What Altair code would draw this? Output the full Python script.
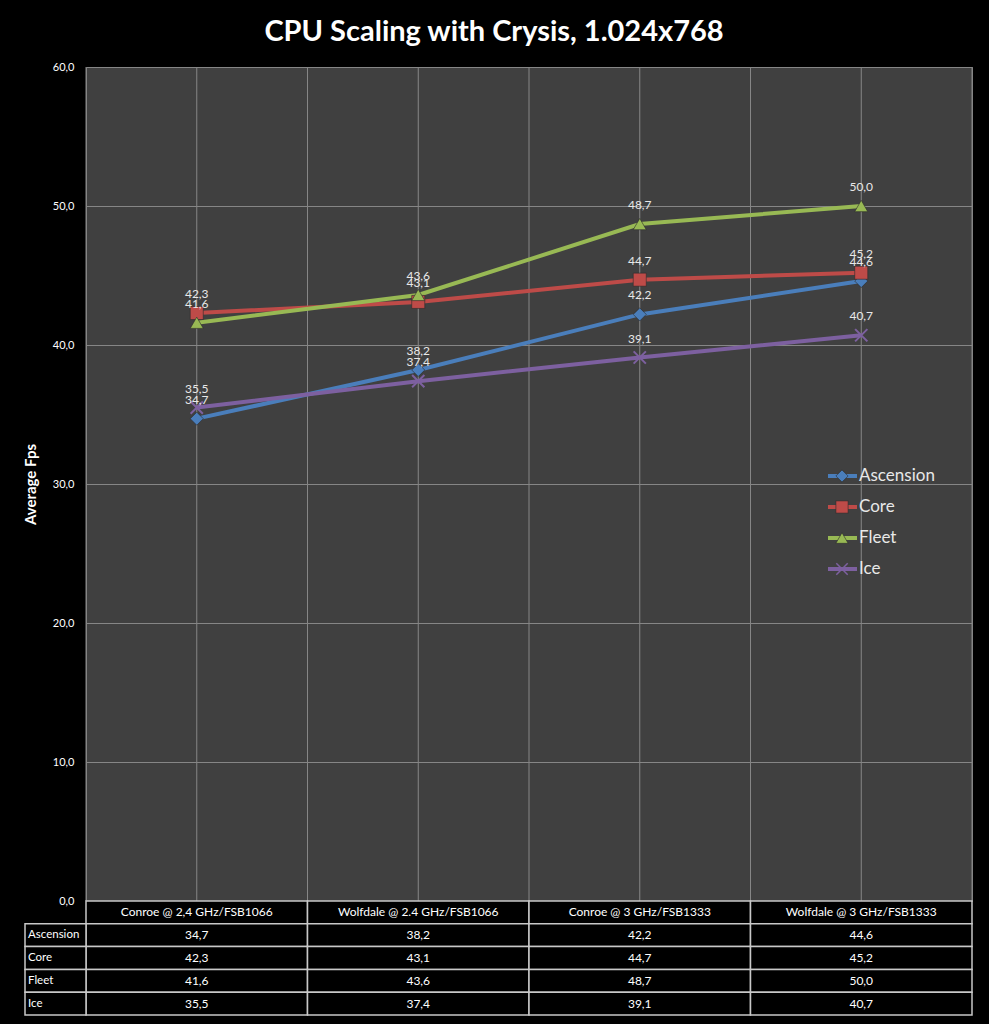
import altair as alt
import pandas as pd

# ---------------- data ----------------
categories = [
    "Conroe @ 2,4 GHz/FSB1066",
    "Wolfdale @ 2.4 GHz/FSB1066",
    "Conroe @ 3 GHz/FSB1333",
    "Wolfdale @ 3 GHz/FSB1333",
]
series_names = ["Ascension", "Core", "Fleet", "Ice"]
ascension = [34.7, 38.2, 42.2, 44.6]
core = [42.3, 43.1, 44.7, 45.2]
fleet = [41.6, 43.6, 48.7, 50.0]
ice = [35.5, 37.4, 39.1, 40.7]
colors = ["#4a7ebb", "#be4b48", "#98b954", "#7d60a0"]
title_text = "CPU Scaling with Crysis, 1.024x768"
y_title = "Average Fps"
y_ticks = [0, 10, 20, 30, 40, 50, 60]

values = {"Ascension": ascension, "Core": core, "Fleet": fleet, "Ice": ice}


def fmt(v):
    return f"{v:.1f}".replace(".", ",")


rows = []
for s in series_names:
    for i, v in enumerate(values[s]):
        rows.append({"series": s, "idx": i, "value": v, "label": fmt(v)})
df = pd.DataFrame(rows)

tbl_rows = []
for i, c in enumerate(categories):
    tbl_rows.append({"row": "header", "idx": i, "text": c})
    for s in series_names:
        tbl_rows.append({"row": s, "idx": i, "text": fmt(values[s][i])})
tbl = pd.DataFrame(tbl_rows)
row_domain = ["header"] + series_names
left_df = pd.DataFrame({"row": series_names})
legend_df = pd.DataFrame({"series": series_names})
# vertical gridlines: at every category centre and every category boundary
vgrid_df = pd.DataFrame({"pos": [-0.5 + 0.5 * k for k in range(9)]})

# ---------------- style ----------------
FONT = "Lato"
W, H = 886, 834
GRID = "#868686"
TXT = "#e8e8e8"

x_scale = alt.Scale(domain=[-0.5, 3.5], nice=False, zero=False)
y_scale = alt.Scale(domain=[0, 60], nice=False)
color_scale = alt.Scale(domain=series_names, range=colors)

y_axis = alt.Axis(
    values=y_ticks, labelExpr="replace(format(datum.value, '.1f'), '.', ',')",
    ticks=False, domain=False, grid=True, gridColor=GRID, gridWidth=1,
    labelColor="white", labelFont=FONT, labelFontSize=11, labelPadding=12,
    title=y_title, titleColor="white", titleFont=FONT, titleFontSize=15,
    titleFontWeight="bold", titleX=-56, titleY=H / 2, titleAngle=-90,
    titleAlign="center", titleBaseline="middle",
)

X = alt.X("idx:Q", scale=x_scale, axis=None)
Y = alt.Y("value:Q", scale=y_scale, axis=y_axis)
COL = alt.Color("series:N", scale=color_scale, legend=None)

vgrid = alt.Chart(vgrid_df).mark_rule(color=GRID, strokeWidth=1).encode(
    x=alt.X("pos:Q", scale=x_scale, axis=None), y=alt.value(0), y2=alt.value(H))

base = alt.Chart(df)
lines = base.mark_line(strokeWidth=4).encode(x=X, y=Y, color=COL)
shape_scale = alt.Scale(domain=["Ascension", "Core", "Fleet"],
                        range=["diamond", "square", "triangle-up"])
pts = base.transform_filter("datum.series != 'Ice'").mark_point(
    filled=True, size=170, opacity=1, stroke="#2a2a2a", strokeWidth=0.6
).encode(x=X, y=Y, color=COL,
         shape=alt.Shape("series:N", scale=shape_scale, legend=None))
xpath = "M-1,-1L1,1M-1,1L1,-1"
xs = base.transform_filter("datum.series == 'Ice'").mark_point(
    shape=xpath, size=150, filled=False, strokeWidth=2, opacity=1
).encode(x=X, y=Y, color=COL)
labels = base.mark_text(dy=-19, fontSize=12, font=FONT, color=TXT).encode(
    x=X, y=Y, text="label:N")
main = alt.layer(vgrid, lines, pts, xs, labels)

# ---------------- data table ----------------
tY = alt.Y("row:N", scale=alt.Scale(type="band", domain=row_domain, range=[H, H + 114],
                                     paddingInner=0, paddingOuter=0), axis=None)
tb = alt.Chart(tbl).transform_calculate(x0="datum.idx - 0.5", x1="datum.idx + 0.5")
cells = tb.mark_rect(fill="black", stroke="#c8c8c8", strokeWidth=1.5).encode(
    x=alt.X("x0:Q", scale=x_scale, axis=None), x2="x1:Q", y=tY)
cell_txt = tb.mark_text(fontSize=12, font=FONT, color="white", baseline="middle").encode(
    x=alt.X("idx:Q", scale=x_scale, axis=None), y=tY, text="text:N")
lb = alt.Chart(left_df)
left_cells = lb.mark_rect(fill="black", stroke="#c8c8c8", strokeWidth=1.5).encode(
    x=alt.value(-61), x2=alt.value(0), y=tY)
left_txt = lb.mark_text(fontSize=11.5, font=FONT, color="white", align="left",
                        baseline="middle").encode(x=alt.value(-58), y=tY, text="row:N")
table = alt.layer(cells, cell_txt, left_cells, left_txt)

# ---------------- legend ----------------
lY = alt.Y("series:N", scale=alt.Scale(type="point", domain=series_names,
                                        range=[409, 502], padding=0), axis=None)
lg = alt.Chart(legend_df)
lg_rule = lg.mark_rule(strokeWidth=4).encode(
    x=alt.value(742), x2=alt.value(771), y=lY, color=COL)
lg_pts = lg.transform_filter("datum.series != 'Ice'").mark_point(
    filled=True, size=150, opacity=1, stroke="#2a2a2a", strokeWidth=0.6
).encode(x=alt.value(756), y=lY, color=COL,
         shape=alt.Shape("series:N", scale=shape_scale, legend=None))
lg_x = lg.transform_filter("datum.series == 'Ice'").mark_point(
    shape=xpath, size=130, filled=False, strokeWidth=1.5, opacity=1
).encode(x=alt.value(756), y=lY, color=COL)
lg_txt = lg.mark_text(fontSize=17, font=FONT, color=TXT, align="left",
                      baseline="middle").encode(x=alt.value(773), y=lY, text="series:N")
legend = alt.layer(lg_rule, lg_pts, lg_x, lg_txt)

# ---------------- title ----------------
title = alt.Chart(pd.DataFrame({"t": [title_text]})).mark_text(
    fontSize=29, fontWeight="bold", font=FONT, color="white", baseline="middle"
).encode(text="t:N", x=alt.value(408), y=alt.value(-35))

chart = alt.layer(main, table, legend, title).resolve_scale(y="independent").properties(
    width=W, height=H,
    autosize=alt.AutoSizeParams(type="none"),
    padding={"left": 86, "top": 67, "right": 17, "bottom": 123},
    background="black",
).configure_view(fill="#404040", stroke=GRID, strokeWidth=1)

chart.save("out.html", embed_options={"renderer": "svg", "actions": False})
